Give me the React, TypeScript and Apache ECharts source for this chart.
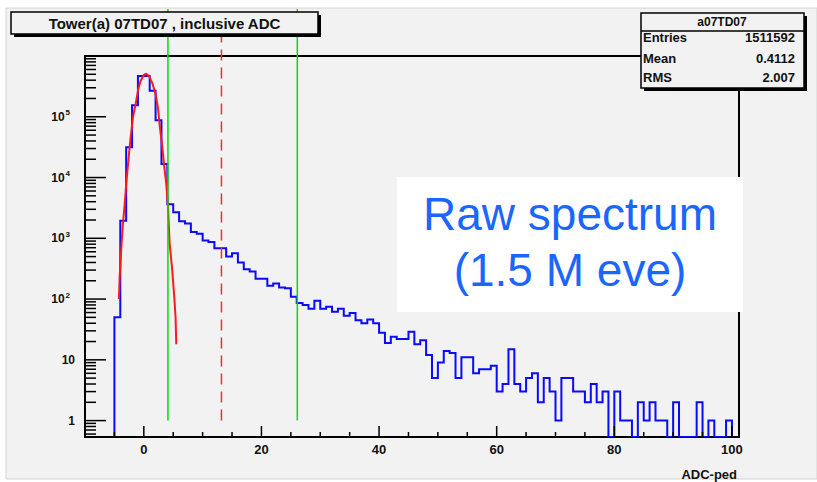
import React, { useEffect, useRef } from "react";
import * as echarts from "echarts";

// ---------- data ----------
const histTitle = "Tower(a) 07TD07 , inclusive ADC";
const statsTitle = "a07TD07";
const statsLabels = ["Entries", "Mean", "RMS"];
const statsValues = ["1511592", "0.4112", "2.007"];
const xTitle = "ADC-ped";
const noteLines = ["Raw spectrum", "(1.5 M eve)"];

// histogram: bins of width 1 starting at ADC-ped = -5
const binLowEdge = -5;
const binWidth = 1;
const adcCounts = [
  50, 1950, 31600, 155000, 470000, 470000, 269000, 88000, 16700, 3650,
  2680, 1900, 1750, 1270, 1190, 920, 870, 685, 685, 500,
  565, 400, 310, 285, 215, 215, 166, 181, 155, 150,
  109, 86, 80, 69, 94, 69, 75, 62, 69, 53,
  59, 45, 40, 46, 40, 28, 19, 24, 22, 22,
  29, 18, 21, 12, 5, 9, 14, 13, 5, 11,
  11, 6, 7, 7, 8, 3, 4, 15, 4, 3,
  5, 6, 2, 5, 3, 1, 5, 5, 3, 3,
  2, 4, 2, 3, 0, 3, 1, 1, 0, 2,
  1, 2, 1, 1, 0, 2, 0, 0, 0, 2,
  0, 1, 0, 0, 1,
];

// gaussian fit curve (red)
const fitX = [-4.23, -4.11, -3.82, -3.55, -3.26, -2.97, -2.63, -2.24, -1.85, -1.39, -0.93, -0.54, 0.02, 0.42, 0.87, 1.44, 2.01, 2.4, 2.74, 3.14, 3.48, 3.82, 4.1, 4.38, 4.84, 5.18, 5.4, 5.52];
const fitCounts = [100, 230, 710, 1740, 3600, 8300, 19000, 46000, 98000, 162000, 290000, 390000, 490000, 510000, 470000, 360000, 235000, 141000, 66000, 32000, 15000, 7800, 3600, 850, 295, 107, 50, 18];

// cut lines
const greenCuts = [4.1, 26.1];
const redCuts = [13.2];

// axes
const xMin = -10;
const xMax = 101.2;
const yMin = 0.537;
const yMax = 1e6;
const xMajorTicks = [0, 20, 40, 60, 80, 100];
const xTickLabels = ["0", "20", "40", "60", "80", "100"];
const xMinorTicks = [-5, 5, 10, 15, 25, 30, 35, 45, 50, 55, 65, 70, 75, 85, 90, 95];
const yMajorTicks = [1, 10, 100, 1000, 10000, 100000];
const yTickLabels = ["1", "10", "10^2", "10^3", "10^4", "10^5"];
const yMinorTicks = [
  0.6, 0.7, 0.8, 0.9,
  2, 3, 4, 5, 6, 7, 8, 9,
  20, 30, 40, 50, 60, 70, 80, 90,
  200, 300, 400, 500, 600, 700, 800, 900,
  2000, 3000, 4000, 5000, 6000, 7000, 8000, 9000,
  20000, 30000, 40000, 50000, 60000, 70000, 80000, 90000,
  200000, 300000, 400000, 500000, 600000, 700000, 800000, 900000,
];

const FONT = '"Liberation Sans", Arial, Helvetica, sans-serif';

export default function App() {
  const ref = useRef<HTMLDivElement>(null);

  useEffect(() => {
    if (!ref.current) return;
    const chart = echarts.init(ref.current, undefined, { renderer: "svg" });

    const histSeries = {
      type: "custom",
      coordinateSystem: "cartesian2d",
      data: [[0, 1]],
      clip: true,
      z: 3,
      renderItem: (params: any, api: any) => {
        const pts: number[][] = [];
        const lastEdge = binLowEdge + adcCounts.length * binWidth;
        pts.push(api.coord([binLowEdge, yMin]));
        adcCounts.forEach((c, i) => {
          const v = c > 0 ? c : yMin;
          const x0 = binLowEdge + i * binWidth;
          pts.push(api.coord([x0, v]));
          pts.push(api.coord([x0 + binWidth, v]));
        });
        pts.push(api.coord([lastEdge, yMin]));
        return {
          type: "polyline",
          shape: { points: pts },
          style: { stroke: "#0a0aff", lineWidth: 2, fill: null },
        };
      },
    };

    const decorSeries = {
      type: "custom",
      coordinateSystem: "cartesian2d",
      data: [[0, 1]],
      clip: false,
      z: 5,
      renderItem: (params: any, api: any) => {
        const cs = params.coordSys;
        const bottom = cs.y + cs.height;
        const left = cs.x;
        const children: any[] = [];
        const tick = (x1: number, y1: number, x2: number, y2: number) =>
          children.push({
            type: "line",
            shape: { x1, y1, x2, y2 },
            style: { stroke: "#000", lineWidth: 1.5 },
          });
        xMajorTicks.forEach((v) => {
          const p = api.coord([v, yMin]);
          tick(p[0], bottom, p[0], bottom - 11);
        });
        xMinorTicks.forEach((v) => {
          const p = api.coord([v, yMin]);
          tick(p[0], bottom, p[0], bottom - 5);
        });
        yMajorTicks.forEach((v) => {
          const p = api.coord([xMin, v]);
          tick(left, p[1], left + 21, p[1]);
        });
        yMinorTicks.forEach((v) => {
          const p = api.coord([xMin, v]);
          tick(left, p[1], left + 11, p[1]);
        });
        return { type: "group", children };
      },
    };

    const cutSeries = {
      type: "custom",
      coordinateSystem: "cartesian2d",
      data: [[0, 1]],
      clip: false,
      z: 6,
      renderItem: (params: any, api: any) => {
        const cs = params.coordSys;
        const top = cs.y - 47;
        const children: any[] = [];
        greenCuts.forEach((v) => {
          const p = api.coord([v, 1]);
          children.push({
            type: "line",
            shape: { x1: p[0], y1: p[1], x2: p[0], y2: top },
            style: { stroke: "#00e000", lineWidth: 1.5 },
          });
        });
        redCuts.forEach((v) => {
          const p = api.coord([v, 1]);
          children.push({
            type: "line",
            shape: { x1: p[0], y1: p[1], x2: p[0], y2: top },
            style: { stroke: "#ff2a2a", lineWidth: 1.5, lineDash: [11, 7] },
          });
        });
        return { type: "group", children };
      },
    };

    const fitSeries = {
      type: "line",
      data: fitX.map((x, i) => [x, fitCounts[i]]),
      showSymbol: false,
      symbol: "none",
      z: 4,
      lineStyle: { color: "#ff1a1a", width: 2 },
    };

    const yLabel = (v: number) => {
      const idx = yMajorTicks.findIndex((t) => Math.abs(t - v) / t < 1e-6);
      if (idx < 0) return "";
      const s = yTickLabels[idx];
      if (s.includes("^")) {
        const [b, e] = s.split("^");
        return `{n|${b}}{s|${e}}`;
      }
      return `{n|${s}}`;
    };

    const xLabel = (v: number) => {
      const idx = xMajorTicks.findIndex((t) => Math.abs(t - v) < 1e-6);
      return idx < 0 ? "" : xTickLabels[idx];
    };

    const rowY = [37, 58, 77];

    const graphic: any[] = [
      {
        type: "rect", z: -100, silent: true,
        shape: { x: 6, y: 8, width: 811, height: 471 },
        style: { fill: "#f2f2f2", stroke: "#d4d4d4", lineWidth: 1 },
      },
      // title box
      { type: "rect", z: 100, shape: { x: 14, y: 15, width: 307, height: 22 }, style: { fill: "#000" } },
      { type: "rect", z: 101, shape: { x: 11, y: 12, width: 307, height: 22 }, style: { fill: "#f2f2f2", stroke: "#000", lineWidth: 1.5 } },
      {
        type: "text", z: 102, x: 164.5, y: 23.5,
        style: { text: histTitle, font: `bold 15px ${FONT}`, fill: "#111", align: "center", verticalAlign: "middle", textAlign: "center", textVerticalAlign: "middle" },
      },
      // stats box
      { type: "rect", z: 100, shape: { x: 644, y: 16, width: 163, height: 75 }, style: { fill: "#000" } },
      { type: "rect", z: 101, shape: { x: 641, y: 13, width: 163, height: 75 }, style: { fill: "#f2f2f2", stroke: "#000", lineWidth: 1.5 } },
      { type: "line", z: 102, shape: { x1: 641, y1: 31, x2: 804, y2: 31 }, style: { stroke: "#000", lineWidth: 1.5 } },
      {
        type: "text", z: 102, x: 722, y: 21.5,
        style: { text: statsTitle, font: `bold 12px ${FONT}`, fill: "#111", align: "center", verticalAlign: "middle", textAlign: "center", textVerticalAlign: "middle" },
      },
      ...statsLabels.map((l, i) => ({
        type: "text", z: 102, x: 643, y: rowY[i],
        style: { text: l, font: `bold 13px ${FONT}`, fill: "#111", align: "left", verticalAlign: "middle", textAlign: "left", textVerticalAlign: "middle" },
      })),
      ...statsValues.map((l, i) => ({
        type: "text", z: 102, x: 795, y: rowY[i],
        style: { text: l, font: `bold 13px ${FONT}`, fill: "#111", align: "right", verticalAlign: "middle", textAlign: "right", textVerticalAlign: "middle" },
      })),
      // x axis title
      {
        type: "text", z: 102, x: 737, y: 474,
        style: { text: xTitle, font: `bold 13px ${FONT}`, fill: "#111", align: "right", verticalAlign: "middle", textAlign: "right", textVerticalAlign: "middle" },
      },
      // note box
      { type: "rect", z: 110, shape: { x: 397, y: 177, width: 346, height: 135 }, style: { fill: "#ffffff" } },
      ...noteLines.map((t, i) => ({
        type: "text", z: 111, x: 570, y: i === 0 ? 213.5 : 270,
        style: { text: t, font: `46px ${FONT}`, fill: "#1a66ff", align: "center", verticalAlign: "middle", textAlign: "center", textVerticalAlign: "middle" },
      })),
    ];

    chart.setOption({
      animation: false,
      backgroundColor: "#ffffff",
      grid: {
        left: 85, top: 56, width: 654, height: 381,
        show: true, borderColor: "#000", borderWidth: 2, backgroundColor: "transparent",
        containLabel: false, outerBoundsMode: "none",
      },
      xAxis: {
        type: "value", min: xMin, max: xMax, interval: 10,
        axisLine: { show: false }, axisTick: { show: false }, splitLine: { show: false },
        axisLabel: { formatter: xLabel, margin: 6, fontSize: 13, fontWeight: "bold", color: "#111", fontFamily: FONT, showMaxLabel: false, showMinLabel: false },
      },
      yAxis: {
        type: "log", logBase: 10, min: yMin, max: yMax,
        axisLine: { show: false }, axisTick: { show: false }, splitLine: { show: false },
        axisLabel: {
          formatter: yLabel, margin: 10, color: "#111",
          rich: {
            n: { fontSize: 12, fontWeight: "bold", color: "#111", fontFamily: FONT, lineHeight: 16, verticalAlign: "middle" },
            s: { fontSize: 8, fontWeight: "bold", color: "#111", fontFamily: FONT, lineHeight: 16, verticalAlign: "top", padding: [0, 5, 0, 1] },
          },
        },
      },
      series: [histSeries, fitSeries, cutSeries, decorSeries],
      graphic,
    });

    return () => chart.dispose();
  }, []);

  return (
    <div
      ref={ref}
      style={{ position: "absolute", left: 0, top: 0, width: 817, height: 482 }}
    />
  );
}
